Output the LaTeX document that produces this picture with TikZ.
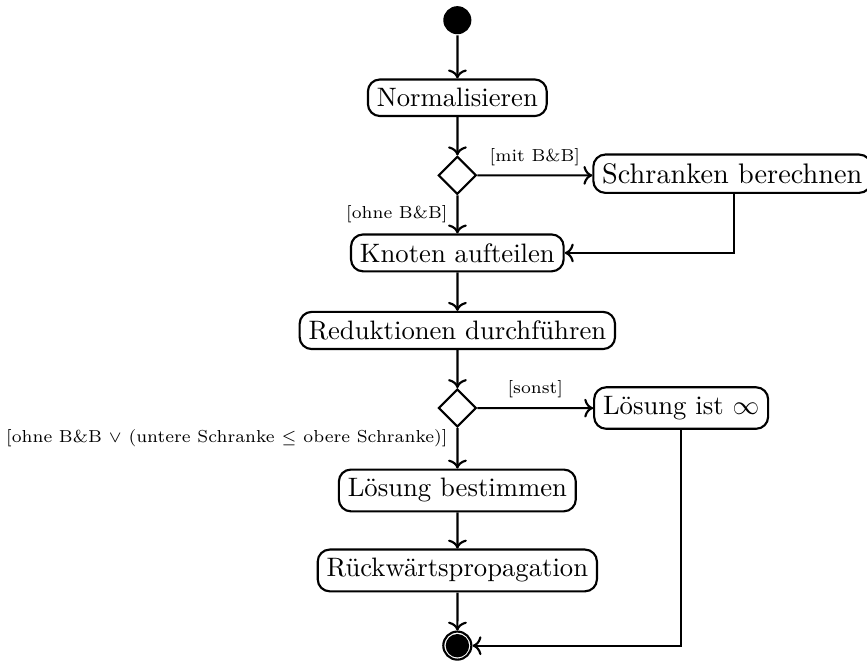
\documentclass[tikz,border=0pt]{standalone}
\usepackage{tikz}
\usetikzlibrary{calc}
\usetikzlibrary{arrows.meta}
\usetikzlibrary{shapes.geometric}

\begin{document}
\begin{tikzpicture}[scale=1.065, thick,
  aktion/.style={draw, rounded corners=4.5pt, fill=white},
  entscheidung/.style={draw, diamond, minimum size=0.5cm, inner sep=0pt},
  bedingung/.style={font=\fontsize{6.5}{8}\selectfont}]
\useasboundingbox (0,0) rectangle (10.73,-8.17);

\node[circle, fill=black, minimum size=0.37cm, inner sep=0pt] (start) at (5.66,-0.25) {};
\node[aktion] (norm) at (5.66,-1.21) {Normalisieren};
\node[entscheidung] (wahl1) at (5.66,-2.17) {};
\node[aktion, anchor=west, font=\fontsize{10.6}{13}\selectfont] (schranken) at (7.33,-2.15) {Schranken berechnen};
\coordinate (knick) at (9.08,-2.17);
\node[aktion] (knoten) at (5.66,-3.13) {Knoten aufteilen};
\node[aktion] (reduktion) at (5.66,-4.09) {Reduktionen durchf\"uhren};
\node[entscheidung] (wahl2) at (5.66,-5.05) {};
\node[aktion, anchor=west] (unendlich) at (7.34,-5.05) {L\"osung ist $\infty$};
\node[aktion] (loesung) at (5.66,-6.07) {L\"osung bestimmen};
\node[aktion] (rueck) at (5.66,-7.06) {R\"uckw\"artspropagation};
\node[circle, draw, minimum size=0.37cm, inner sep=0pt] (ende) at (5.66,-7.99) {};
\fill (ende.center) circle (0.145cm);

\draw[->] (start) -- (norm);
\draw[->] (norm) -- (wahl1);
\draw[->] (wahl1) -- node[bedingung, above]{[mit B\&B]} (wahl1 -| schranken.west);
\draw[->] (wahl1) -- node[bedingung, left]{[ohne B\&B]} (knoten);
\draw[->] (schranken.south -| knick) |- (knoten.east);
\draw[->] (knoten) -- (reduktion);
\draw[->] (reduktion) -- (wahl2);
\draw[->] (wahl2) -- node[bedingung, above]{[sonst]} (unendlich);
\draw[->] (wahl2) -- node[bedingung, left, yshift=4pt]{[ohne B\&B $\vee$ (untere Schranke $\leq$ obere Schranke)]} (loesung);
\draw[->] (unendlich.south) |- (ende.east);
\draw[->] (loesung) -- (rueck);
\draw[->] (rueck) -- (ende);

\end{tikzpicture}
\end{document}
